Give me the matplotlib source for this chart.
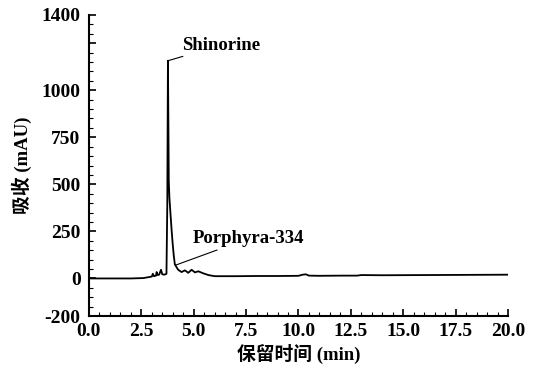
# HPLC chromatogram: Shinorine / Porphyra-334
import matplotlib.pyplot as plt
from matplotlib.ticker import MultipleLocator

time_min = [0, 2.0, 2.6, 2.9, 3.0, 3.05, 3.1, 3.2, 3.23, 3.28, 3.35, 3.44, 3.5, 3.6,
            3.7, 3.74, 3.77, 3.79, 3.81, 3.84, 3.9, 3.95, 4.0, 4.05, 4.1, 4.18,
            4.26, 4.42, 4.58, 4.74, 4.9, 5.06, 5.22, 5.46, 5.7, 6.0, 7.0, 8.0,
            9.0, 10.0, 10.2, 10.35, 10.5, 11.0, 12.0, 12.8, 13.0, 14.0, 16.0,
            18.0, 20.0]
absorb = [0, 0, 2, 8, 10, 25, 12, 15, 34, 18, 20, 46, 22, 20,
          25, 400, 1157, 850, 520, 430, 330, 250, 180, 120, 75, 60,
          46, 34, 43, 30, 46, 32, 38, 27, 18, 12, 12, 13,
          13, 14, 20, 22, 15, 14, 15, 15, 18, 17, 18,
          19, 20]

peak_names = ["Shinorine", "Porphyra-334"]
peak_xy = [(3.78, 1157), (4.12, 70)]
label_xy = [(4.45, 1240), (4.93, 211)]

x_ticks = [0, 2.5, 5, 7.5, 10, 12.5, 15, 17.5, 20]
y_ticks = [-200, 0, 250, 500, 750, 1000, 1250, 1400]
y_labels = ["-200", "0", "250", "500", "750", "1000", "", "1400"]

plt.rcParams["font.family"] = ["Liberation Serif", "Noto Sans CJK SC"]
plt.rcParams["font.weight"] = "bold"

fig = plt.figure(figsize=(5.39, 3.65), dpi=100)
ax = fig.add_axes([0.165, 0.134, 0.7775, 0.825])

ax.plot(time_min, absorb, color="black", lw=1.3)

for name, p, t in zip(peak_names, peak_xy, label_xy):
    ax.annotate(name, xy=p, xytext=t, fontsize=13.5, fontweight="bold",
                va="center", ha="left",
                arrowprops=dict(arrowstyle="-", color="black", lw=0.8,
                                shrinkA=0, shrinkB=0))

ax.set_xlim(0, 20)
ax.set_ylim(-200, 1400)
ax.set_xticks(x_ticks)
ax.set_xticklabels([f"{v:.1f}" for v in x_ticks])
ax.set_yticks(y_ticks)
ax.set_yticklabels(y_labels)
ax.xaxis.set_minor_locator(MultipleLocator(0.5))
ax.yaxis.set_minor_locator(MultipleLocator(50))
ax.tick_params(which="major", direction="in", length=5, width=1.2, labelsize=14)
ax.tick_params(axis="x", which="major", pad=5)
ax.tick_params(axis="y", which="major", pad=6)
ax.tick_params(which="minor", direction="in", length=3, width=0.8)

for s in ["top", "right"]:
    ax.spines[s].set_visible(False)
for s in ["left", "bottom"]:
    ax.spines[s].set_linewidth(1.5)

ax.set_xlabel("保留时间 (min)", fontsize=13.5, fontweight="bold")
ax.set_ylabel("吸收 (mAU)", fontsize=13.5, fontweight="bold")
ax.xaxis.set_label_coords(0.5, -0.092)
ax.yaxis.set_label_coords(-0.135, 0.5)

fig.savefig("out.png", dpi=100)
